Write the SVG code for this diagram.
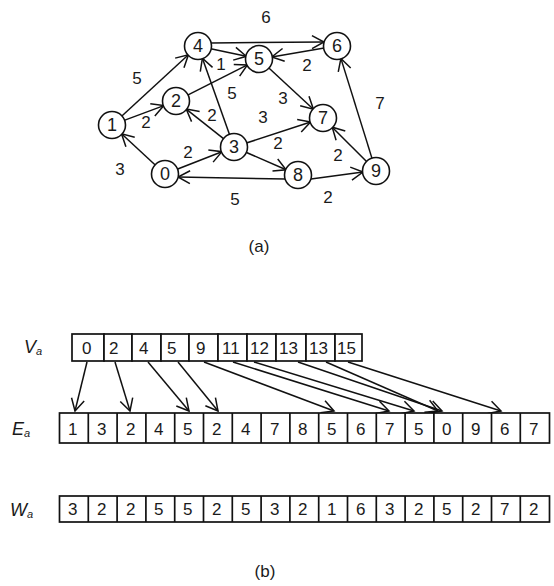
<svg xmlns="http://www.w3.org/2000/svg" width="554" height="586" viewBox="0 0 554 586">
  <style>
    .node circle { fill: #fff; stroke: #111; stroke-width: 1.6; }
    .node text { font-family: "Liberation Sans", Arial, sans-serif; font-size: 18px; fill: #1a1a1a; text-anchor: middle; dominant-baseline: central; }
    .edge { stroke: #111; stroke-width: 1.5; fill: none; marker-end: url(#ah); }
    .wt { font-family: "Liberation Sans", Arial, sans-serif; font-size: 17px; fill: #1a1a1a; text-anchor: middle; dominant-baseline: central; }
    .cell { fill: #fff; stroke: #111; stroke-width: 1.7; }
    .val { font-family: "Liberation Sans", Arial, sans-serif; font-size: 17px; fill: #1a1a1a; dominant-baseline: central; }
    .lbl { font-family: "Liberation Sans", Arial, sans-serif; font-size: 18px; font-style: italic; fill: #1a1a1a; dominant-baseline: central; }
    .cap { font-family: "Liberation Sans", Arial, sans-serif; font-size: 17px; fill: #1a1a1a; text-anchor: middle; dominant-baseline: central; }
  </style>
  <defs>
    <marker id="ah" markerWidth="16" markerHeight="16" refX="13" refY="8" orient="auto" markerUnits="userSpaceOnUse">
      <path d="M1,1.5 L13,8 L1,14.5" fill="none" stroke="#111" stroke-width="1.5"/>
    </marker>
  </defs>

  <!-- (a) directed weighted graph -->
  <g id="edges">
    <line class="edge" x1="155.5" y1="165.2" x2="121.5" y2="133.8"/>
    <line class="edge" x1="177.1" y1="169.3" x2="221.9" y2="151.7"/>
    <line class="edge" x1="124.2" y1="120.4" x2="163.8" y2="105.6"/>
    <line class="edge" x1="121.6" y1="116.2" x2="188.4" y2="54.8"/>
    <line class="edge" x1="187.6" y1="95.1" x2="247.4" y2="64.9"/>
    <line class="edge" x1="223.8" y1="138.9" x2="186.2" y2="109.1"/>
    <line class="edge" x1="229.6" y1="134.8" x2="202.4" y2="58.2"/>
    <line class="edge" x1="246.4" y1="143.0" x2="310.6" y2="122.0"/>
    <line class="edge" x1="245.9" y1="152.2" x2="286.1" y2="169.8"/>
    <line class="edge" x1="210.7" y1="48.7" x2="246.3" y2="56.3"/>
    <line class="edge" x1="211" y1="43" x2="324" y2="42"/>
    <line class="edge" x1="268.6" y1="67.8" x2="313.4" y2="109.2"/>
    <line class="edge" x1="324.2" y1="48.1" x2="271.8" y2="56.9"/>
    <line class="edge" x1="286" y1="179" x2="178" y2="177"/>
    <line class="edge" x1="311" y1="179" x2="363" y2="172"/>
    <line class="edge" x1="372.1" y1="158.6" x2="340.9" y2="58.4"/>
    <line class="edge" x1="366.8" y1="161.8" x2="332.2" y2="127.2"/>
  </g>

  <g id="weights">
    <text class="wt" x="266" y="17">6</text>
    <text class="wt" x="137" y="78">5</text>
    <text class="wt" x="146" y="122">2</text>
    <text class="wt" x="120" y="169">3</text>
    <text class="wt" x="188" y="152">2</text>
    <text class="wt" x="235" y="199">5</text>
    <text class="wt" x="328" y="197">2</text>
    <text class="wt" x="338" y="155">2</text>
    <text class="wt" x="380" y="103">7</text>
    <text class="wt" x="278" y="143">2</text>
    <text class="wt" x="263" y="117">3</text>
    <text class="wt" x="212" y="115">2</text>
    <text class="wt" x="232" y="93">5</text>
    <text class="wt" x="283" y="98">3</text>
    <text class="wt" x="221" y="64">1</text>
    <text class="wt" x="307" y="65">2</text>
  </g>

  <g id="n0" class="node"><circle cx="165" cy="174" r="13.5"/><text x="165" y="174">0</text></g>
  <g id="n1" class="node"><circle cx="112" cy="125" r="13.5"/><text x="112" y="125">1</text></g>
  <g id="n2" class="node"><circle cx="176" cy="101" r="13.5"/><text x="176" y="101">2</text></g>
  <g id="n3" class="node"><circle cx="234" cy="147" r="13.5"/><text x="234" y="147">3</text></g>
  <g id="n4" class="node"><circle cx="198" cy="46" r="13.5"/><text x="198" y="46">4</text></g>
  <g id="n5" class="node"><circle cx="259" cy="59" r="13.5"/><text x="259" y="59">5</text></g>
  <g id="n6" class="node"><circle cx="337" cy="46" r="13.5"/><text x="337" y="46">6</text></g>
  <g id="n7" class="node"><circle cx="323" cy="118" r="13.5"/><text x="323" y="118">7</text></g>
  <g id="n8" class="node"><circle cx="298" cy="175" r="13.5"/><text x="298" y="175">8</text></g>
  <g id="n9" class="node"><circle cx="376" cy="171" r="13.5"/><text x="376" y="171">9</text></g>

  <text class="cap" x="259" y="246">(a)</text>

  <!-- (b) compressed adjacency arrays -->
  <g id="array-labels">
    <text class="lbl" x="24" y="347">V<tspan font-size="11" dy="4">a</tspan></text>
    <text class="lbl" x="12" y="429">E<tspan font-size="11" dy="4">a</tspan></text>
    <text class="lbl" x="10" y="510">W<tspan font-size="11" dy="4">a</tspan></text>
  </g>

  <g id="V">
    <rect class="cell" x="72" y="334" width="32" height="27"/>
    <rect class="cell" x="104" y="334" width="28" height="27"/>
    <rect class="cell" x="132" y="334" width="29" height="27"/>
    <rect class="cell" x="161" y="334" width="28" height="27"/>
    <rect class="cell" x="189" y="334" width="29" height="27"/>
    <rect class="cell" x="218" y="334" width="29" height="27"/>
    <rect class="cell" x="247" y="334" width="29" height="27"/>
    <rect class="cell" x="276" y="334" width="30" height="27"/>
    <rect class="cell" x="306" y="334" width="29" height="27"/>
    <rect class="cell" x="335" y="334" width="27" height="27"/>
    <text class="val" x="82" y="348">0</text>
    <text class="val" x="109" y="348">2</text>
    <text class="val" x="139" y="348">4</text>
    <text class="val" x="167" y="348">5</text>
    <text class="val" x="196" y="348">9</text>
    <text class="val" x="222" y="348">11</text>
    <text class="val" x="250" y="348">12</text>
    <text class="val" x="279" y="348">13</text>
    <text class="val" x="309" y="348">13</text>
    <text class="val" x="337" y="348">15</text>
  </g>

  <g id="pointers">
    <line class="edge" x1="87" y1="362" x2="75" y2="411"/>
    <line class="edge" x1="115" y1="362" x2="130" y2="411"/>
    <line class="edge" x1="148" y1="362" x2="189" y2="411"/>
    <line class="edge" x1="178" y1="362" x2="218" y2="411"/>
    <line class="edge" x1="204" y1="362" x2="334" y2="411"/>
    <line class="edge" x1="233" y1="362" x2="389" y2="411"/>
    <line class="edge" x1="254" y1="362" x2="414" y2="411"/>
    <line class="edge" x1="298" y1="362" x2="442" y2="411"/>
    <line class="edge" x1="326" y1="362" x2="438" y2="411"/>
    <line class="edge" x1="348" y1="362" x2="501" y2="411"/>
  </g>

  <g id="E">
    <rect class="cell" x="59.5" y="413" width="490" height="30"/>
    <path d="M88.3,413V443M117.1,413V443M145.9,413V443M174.7,413V443M203.5,413V443M232.3,413V443M261.1,413V443M289.9,413V443M318.7,413V443M347.5,413V443M376.3,413V443M405.1,413V443M433.9,413V443M462.7,413V443M491.5,413V443M520.3,413V443" stroke="#111" stroke-width="1.7" fill="none"/>
    <g class="val">
      <text x="68" y="429">1</text>
      <text x="97" y="429">3</text>
      <text x="126" y="429">2</text>
      <text x="154" y="429">4</text>
      <text x="183" y="429">5</text>
      <text x="212" y="429">2</text>
      <text x="241" y="429">4</text>
      <text x="270" y="429">7</text>
      <text x="298" y="429">8</text>
      <text x="327" y="429">5</text>
      <text x="356" y="429">6</text>
      <text x="385" y="429">7</text>
      <text x="414" y="429">5</text>
      <text x="442" y="429">0</text>
      <text x="471" y="429">9</text>
      <text x="500" y="429">6</text>
      <text x="529" y="429">7</text>
    </g>
  </g>

  <g id="W">
    <rect class="cell" x="59.5" y="496" width="490" height="26"/>
    <path d="M88.3,496V522M117.1,496V522M145.9,496V522M174.7,496V522M203.5,496V522M232.3,496V522M261.1,496V522M289.9,496V522M318.7,496V522M347.5,496V522M376.3,496V522M405.1,496V522M433.9,496V522M462.7,496V522M491.5,496V522M520.3,496V522" stroke="#111" stroke-width="1.7" fill="none"/>
    <g class="val">
      <text x="68" y="509">3</text>
      <text x="97" y="509">2</text>
      <text x="126" y="509">2</text>
      <text x="154" y="509">5</text>
      <text x="183" y="509">5</text>
      <text x="212" y="509">2</text>
      <text x="241" y="509">5</text>
      <text x="270" y="509">3</text>
      <text x="298" y="509">2</text>
      <text x="327" y="509">1</text>
      <text x="356" y="509">6</text>
      <text x="385" y="509">3</text>
      <text x="414" y="509">2</text>
      <text x="442" y="509">5</text>
      <text x="471" y="509">2</text>
      <text x="500" y="509">7</text>
      <text x="529" y="509">2</text>
    </g>
  </g>

  <text class="cap" x="265" y="571">(b)</text>
</svg>
